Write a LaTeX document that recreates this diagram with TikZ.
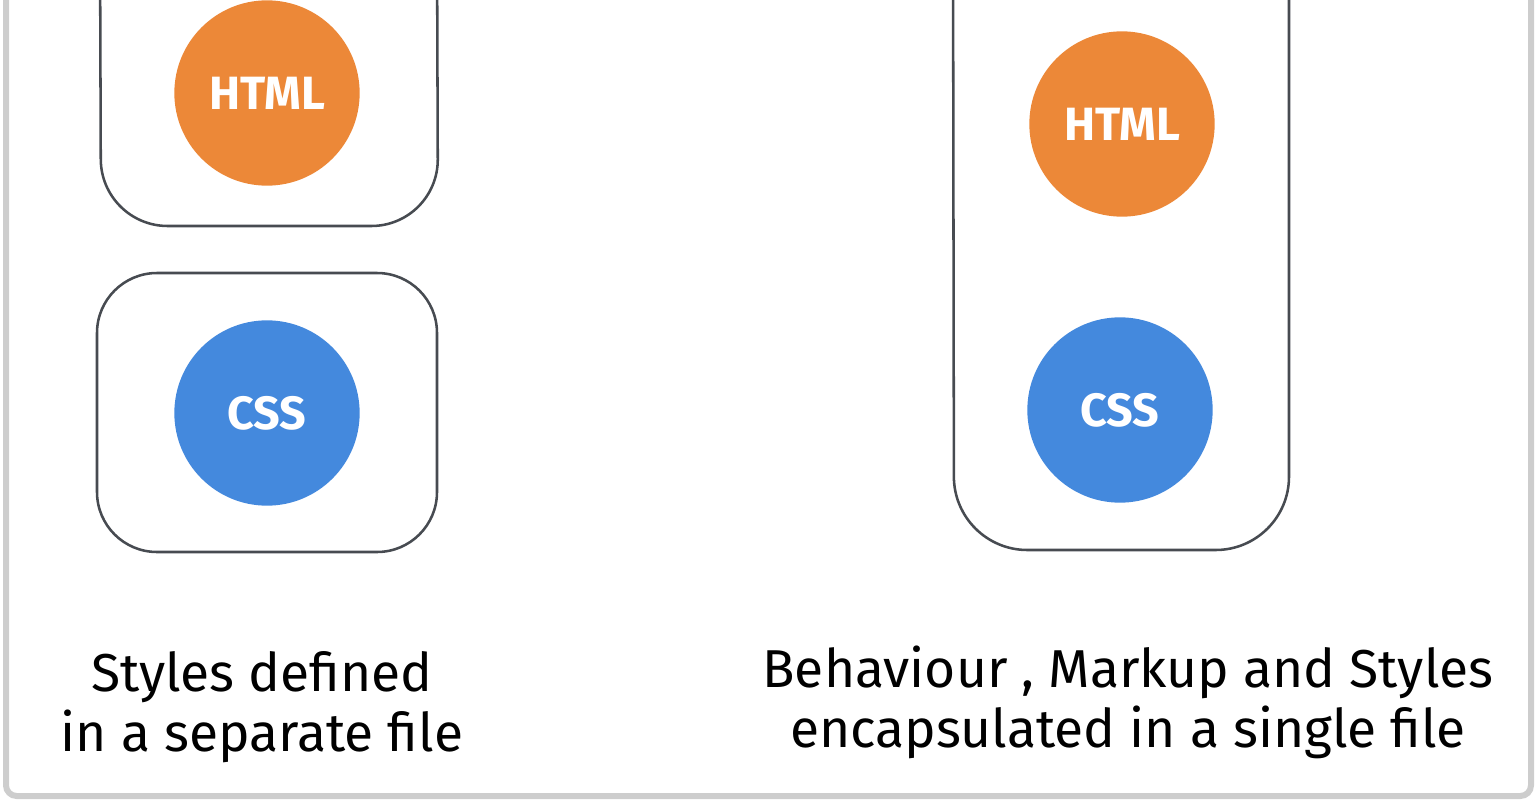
\documentclass[tikz,border=0pt]{standalone}
\usepackage{fontspec}
\setmainfont{Fira Sans}
\usepackage{xcolor}
\definecolor{htmlorange}{HTML}{EC8838}
\definecolor{cssblue}{HTML}{4489DD}
\definecolor{boxgrey}{HTML}{474B51}
\definecolor{framegrey}{HTML}{CDCDCD}

\begin{document}
\begin{tikzpicture}[x=0.75pt,y=0.75pt,yscale=-1,xscale=1,
        tech/.style={circle, minimum size=139pt, inner sep=0pt, text=white, font=\bfseries\fontsize{35}{40}\selectfont},
        sketchbox/.style={draw=boxgrey, line width=1.9pt, rounded corners=50pt},
        caption/.style={align=center, inner sep=0.75pt, font=\fontsize{40}{45}\selectfont}]
        \useasboundingbox (0,0) rectangle (1536,800);
        \clip (0,0) rectangle (1536,800);
        
        %Shape: Frame
        \draw [framegrey, line width=4.5pt, rounded corners=8pt] (6,-30) -- (6,796) -- (1531,796) -- (1531,-30) ;
        
        %Shape: Box, left top (cut at top)
        \draw [sketchbox] (100,-60) -- (101,226) -- (438,226) -- (437,-60) ;
        %Shape: Box, left bottom
        \draw [sketchbox, rounded corners=45pt] (97,273) rectangle (437,552) ;
        %Shape: Box, right (cut at top)
        \draw [sketchbox, rounded corners=55pt] (953,-80) -- (954,550) -- (1289,550) -- (1289,-80) ;
        
        %Shape: Circles
        \node [tech, fill=htmlorange] (htmlsep) at (267,93) {HTML};
        \node [tech, fill=cssblue] (csssep) at (267,413) {CSS};
        \node [tech, fill=htmlorange] (htmlone) at (1122,124) {HTML};
        \node [tech, fill=cssblue] (cssone) at (1120,410) {CSS};
        
        % Text Node
        \node [caption] (sepcap) at (262,707) {Styles defined\\in a separate file};
        % Text Node
        \node [caption] (onecap) at (1128,702) {Behaviour , Markup and Styles\\encapsulated in a single file};
        
\end{tikzpicture}
\end{document}
